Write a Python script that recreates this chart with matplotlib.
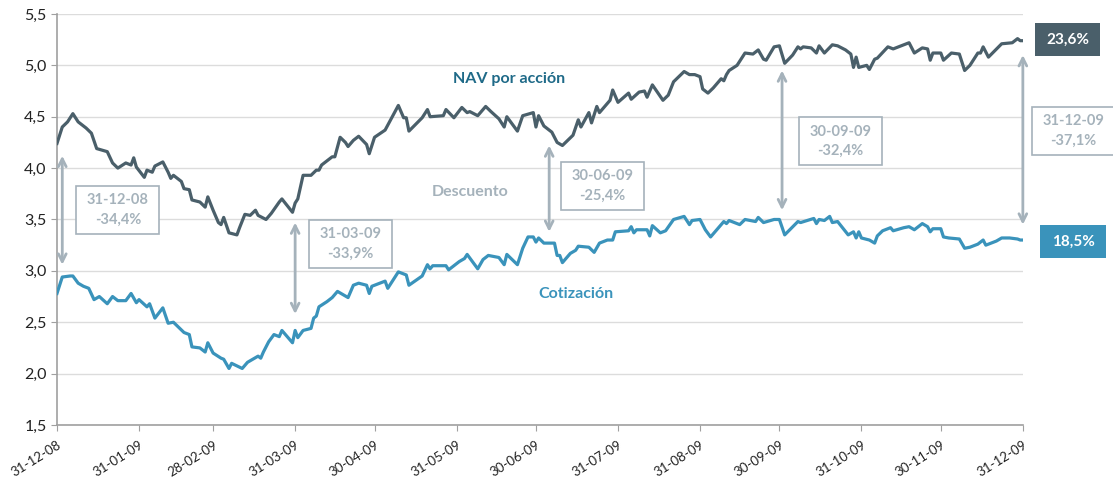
import numpy as np
import pandas as pd
import matplotlib
matplotlib.use("Agg")
import matplotlib.pyplot as plt
from matplotlib.patches import Rectangle
from matplotlib.ticker import FuncFormatter

plt.rcParams['font.family'] = ['Lato', 'DejaVu Sans']

inicio = pd.Timestamp("2008-12-31")

# days since 31-12-08 and values
nav_dias = [0, 2, 4, 6, 8, 11, 13, 15, 19, 21, 23, 26, 28, 29, 30, 33, 34, 36, 37, 40,
            42, 43, 44, 47, 48, 50, 51, 54, 56, 57, 59, 61, 62, 63, 65, 68, 69, 71, 73, 75,
            76, 79, 81, 84, 85, 89, 90, 91, 93, 96, 98, 99, 100, 104, 105, 107, 109, 110, 112, 114,
            117, 118, 120, 124, 129, 131, 132, 133, 138, 140, 141, 146, 147, 150, 153, 155, 156, 159, 162, 164,
            167, 169, 170, 174, 176, 180, 181, 182, 184, 187, 189, 191, 195, 197, 198, 201, 202, 204, 205, 208,
            209, 210, 212, 216, 217, 220, 222, 223, 225, 229, 231, 233, 237, 239, 241, 243, 244, 246, 248, 251,
            252, 253, 254, 257, 260, 263, 265, 267, 268, 271, 273, 275, 278, 280, 281, 282, 285, 287, 288, 290,
            293, 295, 298, 300, 301, 302, 303, 306, 307, 309, 310, 314, 316, 320, 322, 324, 327, 329, 330, 331,
            334, 335, 338, 341, 343, 345, 348, 349, 350, 352, 357, 361, 363, 364, 365]
nav_valores = [4.24, 4.40, 4.45, 4.53, 4.45, 4.39, 4.34, 4.19, 4.16, 4.05, 4.00, 4.05, 4.03, 4.10, 4.01, 3.91, 3.98, 3.96, 4.02, 4.06,
               3.96, 3.90, 3.93, 3.87, 3.80, 3.79, 3.69, 3.67, 3.62, 3.72, 3.59, 3.47, 3.45, 3.52, 3.37, 3.35, 3.42, 3.55, 3.54, 3.59,
               3.54, 3.50, 3.56, 3.67, 3.70, 3.57, 3.66, 3.70, 3.93, 3.93, 3.98, 3.98, 4.03, 4.11, 4.11, 4.30, 4.25, 4.21, 4.27, 4.31,
               4.23, 4.14, 4.30, 4.37, 4.61, 4.49, 4.49, 4.36, 4.49, 4.57, 4.50, 4.51, 4.57, 4.49, 4.59, 4.54, 4.55, 4.51, 4.60, 4.55,
               4.48, 4.40, 4.50, 4.36, 4.51, 4.54, 4.40, 4.51, 4.41, 4.35, 4.25, 4.22, 4.32, 4.47, 4.40, 4.54, 4.44, 4.60, 4.54, 4.63,
               4.66, 4.76, 4.64, 4.73, 4.67, 4.74, 4.75, 4.69, 4.81, 4.66, 4.71, 4.84, 4.94, 4.91, 4.91, 4.89, 4.77, 4.73, 4.78, 4.87,
               4.85, 4.91, 4.95, 5.00, 5.12, 5.11, 5.15, 5.06, 5.05, 5.18, 5.19, 5.02, 5.10, 5.18, 5.16, 5.18, 5.17, 5.12, 5.19, 5.12,
               5.20, 5.19, 5.15, 5.11, 4.98, 5.08, 4.98, 5.00, 4.96, 5.06, 5.07, 5.18, 5.16, 5.20, 5.22, 5.12, 5.17, 5.16, 5.05, 5.12,
               5.12, 5.05, 5.12, 5.11, 4.95, 5.00, 5.12, 5.12, 5.18, 5.08, 5.21, 5.22, 5.26, 5.24, 5.24]

cot_dias = [0, 2, 5, 6, 8, 10, 12, 14, 16, 19, 21, 23, 26, 28, 30, 31, 34, 35, 37, 40,
            42, 44, 48, 50, 51, 54, 56, 57, 59, 62, 63, 65, 66, 70, 72, 76, 77, 78, 80, 82,
            84, 85, 89, 90, 91, 93, 96, 97, 98, 99, 102, 104, 106, 110, 112, 114, 117, 118, 119, 124,
            125, 129, 132, 133, 138, 140, 141, 142, 147, 148, 152, 154, 155, 159, 161, 163, 167, 169, 170, 174,
            176, 178, 180, 181, 182, 184, 188, 189, 190, 191, 194, 196, 197, 201, 203, 205, 208, 210, 211, 216,
            217, 218, 219, 223, 224, 225, 228, 230, 233, 237, 239, 240, 243, 245, 247, 252, 253, 254, 258, 260,
            264, 265, 267, 271, 273, 275, 280, 281, 286, 287, 288, 290, 292, 293, 295, 299, 301, 302, 303, 304,
            307, 309, 310, 312, 315, 316, 320, 322, 324, 327, 329, 330, 331, 334, 335, 337, 341, 343, 345, 348,
            350, 351, 354, 355, 357, 360, 363, 364, 365]
cot_valores = [2.78, 2.94, 2.95, 2.95, 2.88, 2.85, 2.83, 2.72, 2.75, 2.68, 2.75, 2.71, 2.71, 2.78, 2.69, 2.72, 2.65, 2.68, 2.54, 2.64,
               2.49, 2.50, 2.40, 2.38, 2.26, 2.25, 2.21, 2.30, 2.20, 2.15, 2.14, 2.05, 2.10, 2.05, 2.11, 2.17, 2.15, 2.21, 2.31, 2.38,
               2.36, 2.42, 2.30, 2.42, 2.35, 2.42, 2.44, 2.54, 2.56, 2.65, 2.70, 2.74, 2.80, 2.74, 2.86, 2.88, 2.86, 2.78, 2.85, 2.90,
               2.83, 2.99, 2.96, 2.86, 2.95, 3.06, 3.02, 3.05, 3.05, 3.01, 3.09, 3.12, 3.16, 3.02, 3.11, 3.15, 3.13, 3.06, 3.16, 3.06,
               3.22, 3.33, 3.33, 3.28, 3.32, 3.27, 3.27, 3.15, 3.15, 3.08, 3.17, 3.20, 3.24, 3.23, 3.18, 3.27, 3.30, 3.30, 3.38, 3.39,
               3.43, 3.37, 3.40, 3.40, 3.34, 3.44, 3.37, 3.39, 3.50, 3.53, 3.45, 3.49, 3.50, 3.40, 3.33, 3.48, 3.46, 3.49, 3.45, 3.50,
               3.48, 3.52, 3.47, 3.50, 3.50, 3.35, 3.48, 3.47, 3.51, 3.46, 3.50, 3.49, 3.53, 3.47, 3.48, 3.35, 3.38, 3.32, 3.38, 3.32,
               3.30, 3.27, 3.34, 3.39, 3.42, 3.39, 3.42, 3.43, 3.40, 3.46, 3.43, 3.38, 3.41, 3.41, 3.33, 3.32, 3.31, 3.22, 3.23, 3.26,
               3.30, 3.25, 3.28, 3.29, 3.32, 3.32, 3.31, 3.30, 3.30]

fechas_ticks = ["2008-12-31", "2009-01-31", "2009-02-28", "2009-03-31", "2009-04-30", "2009-05-31", "2009-06-30",
                "2009-07-31", "2009-08-31", "2009-09-30", "2009-10-31", "2009-11-30", "2009-12-31"]

# discount annotations: date, NAV end, price end, label
desc_fechas = ["2009-01-02", "2009-03-31", "2009-07-05", "2009-10-01", "2009-12-31"]
desc_arriba = [4.12, 3.47, 4.22, 4.95, 5.10]
desc_abajo = [3.06, 2.58, 3.38, 3.59, 3.45]
desc_textos = ["31-12-08\n-34,4%", "31-03-09\n-33,9%", "30-06-09\n-25,4%", "30-09-09\n-32,4%", "31-12-09\n-37,1%"]
caja_dia = [23, 111, 206, 296, 384]
caja_valor = [3.59, 3.26, 3.83, 4.26, 4.36]

c_nav = "#4a5f6a"
c_cot = "#3a93bb"
c_gris = "#a5b2bb"

fig = plt.figure(figsize=(11.13, 4.82), dpi=100)
ax = fig.add_axes([0.0512, 0.1183, 0.8678, 0.8527])

nav_x = inicio + pd.to_timedelta(nav_dias, unit="D")
cot_x = inicio + pd.to_timedelta(cot_dias, unit="D")
ax.plot(nav_x, nav_valores, color=c_nav, lw=2.3, solid_joinstyle="round", zorder=3)
ax.plot(cot_x, cot_valores, color=c_cot, lw=2.3, solid_joinstyle="round", zorder=3)

ax.set_ylim(1.5, 5.5)
ax.set_yticks(np.arange(1.5, 5.51, 0.5))
ax.yaxis.set_major_formatter(FuncFormatter(lambda v, p: f"{v:.1f}".replace(".", ",")))
ticks = pd.to_datetime(fechas_ticks)
ax.set_xlim(ticks[0], ticks[-1])
ax.set_xticks(ticks)
ax.set_xticklabels([t.strftime("%d-%m-%y") for t in ticks], rotation=32, ha="right",
                   rotation_mode="anchor", fontsize=9.5, color="#222222")
ax.tick_params(axis="y", labelsize=11.5, colors="#222222", length=4, color="#a0a0a0")
ax.tick_params(axis="x", length=4, color="#a0a0a0", pad=6)
ax.grid(axis="y", color="#dcdcdc", lw=1)
ax.set_axisbelow(True)
for s in ["top", "right"]:
    ax.spines[s].set_visible(False)
for s in ["left", "bottom"]:
    ax.spines[s].set_color("#a0a0a0")
    ax.spines[s].set_linewidth(1.2)

for f, a, b in zip(desc_fechas, desc_arriba, desc_abajo):
    ax.annotate("", xy=(pd.Timestamp(f), a), xytext=(pd.Timestamp(f), b),
                arrowprops=dict(arrowstyle="<->", color=c_gris, lw=2, mutation_scale=14,
                                shrinkA=0, shrinkB=0), annotation_clip=False)

ancho = 31.4
alto = 0.467
for d, v, t in zip(caja_dia, caja_valor, desc_textos):
    x0 = inicio + pd.Timedelta(days=d - ancho / 2)
    ax.add_patch(Rectangle((x0, v - alto / 2), pd.Timedelta(days=ancho), alto,
                           facecolor="white", edgecolor=c_gris, lw=1.2, clip_on=False, zorder=4))
    ax.text(inicio + pd.Timedelta(days=d), v, t, ha="center", va="center", fontsize=10.5,
            fontweight="bold", color=c_gris, linespacing=1.5, zorder=5, clip_on=False)

# final return boxes
for d, v, t, c, w in [(382, 5.252, "23,6%", c_nav, 24.6), (384, 3.286, "18,5%", c_cot, 25)]:
    x0 = inicio + pd.Timedelta(days=d - w / 2)
    ax.add_patch(Rectangle((x0, v - 0.16), pd.Timedelta(days=w), 0.321,
                           facecolor=c, edgecolor="none", clip_on=False, zorder=4))
    ax.text(inicio + pd.Timedelta(days=d), v, t, ha="center", va="center", fontsize=11,
            fontweight="bold", color="white", zorder=5, clip_on=False)

ax.text(inicio + pd.Timedelta(days=171), 4.87, "NAV por acción", ha="center", va="center",
        fontsize=11.5, fontweight="bold", color="#1f6a88")
ax.text(inicio + pd.Timedelta(days=156), 3.77, "Descuento", ha="center", va="center",
        fontsize=11.5, fontweight="bold", color=c_gris)
ax.text(inicio + pd.Timedelta(days=196), 2.77, "Cotización", ha="center", va="center",
        fontsize=11.5, fontweight="bold", color=c_cot)

fig.savefig("out.png", dpi=100)
